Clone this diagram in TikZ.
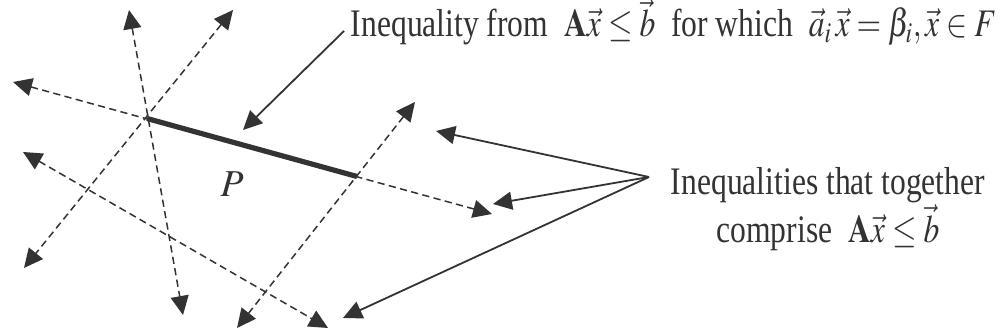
\documentclass[tikz,border=0pt]{standalone}
\usepackage{mathptmx}
\usepackage{fontspec}
\setmainfont{Liberation Serif}
\usepackage{graphicx}
\usetikzlibrary{arrows.meta}

\definecolor{ink}{RGB}{51,51,51}
\newcommand{\cond}[1]{\scalebox{0.81}[1]{#1}}

\begin{document}
\begin{tikzpicture}[x=0.5pt,y=-0.5pt,color=ink,line width=0.9pt,
  tip/.style={-{Triangle[length=9.5pt,width=9pt]}},
  bound/.style={{Triangle[length=9.5pt,width=9pt]}-{Triangle[length=9.5pt,width=9pt]},
    line width=0.75pt,dash pattern=on 3.6pt off 2.2pt},
  lbl/.style={font=\fontsize{19.5}{14.5}\selectfont,inner sep=0pt}]
\useasboundingbox (0,0) rectangle (1000,335);

% ends of the five hyperplanes
\coordinate (h1-a) at (129,10);  \coordinate (h1-b) at (183,315);
\coordinate (h2-a) at (233,10);  \coordinate (h2-b) at (24,268);
\coordinate (h3-a) at (13,82);   \coordinate (h3-b) at (492,214);
\coordinate (h4-a) at (23,152);  \coordinate (h4-b) at (328,328);
\coordinate (h5-a) at (415,102); \coordinate (h5-b) at (237,328);
\foreach \i in {1,...,5}
  \draw[bound] (h\i-a) -- (h\i-b);

% the face F
\coordinate (v1) at (147,118.5);
\coordinate (v2) at (357,176.5);
\draw[line width=2.6pt] (v1) -- (v2);
\node[font=\fontsize{19}{22}\selectfont] (poly) at (232,184) {$P$};

\node[lbl,anchor=base west] (face) at (350,37)
  {\cond{Inequality from \ $\mathbf{A}\vec{x}\le\vec{b}$ \ for which \ $\vec{a}_i\,\vec{x}=\beta_i,\vec{x}\in F$}};
\coordinate (facept) at (243,130);
\draw[tip] ([shift={(-6,-6)}]face.base west) -- (facept);

\node[lbl,align=center] (ineq) at (828,209)
  {\cond{Inequalities that together}\\ \cond{comprise \ $\mathbf{A}\vec{x}\le\vec{b}$}};
\coordinate (apex) at (649,177);
\coordinate (t1) at (436,131);
\coordinate (t2) at (493,204);
\coordinate (t3) at (343,318);
\foreach \t in {t1,t2,t3}
  \draw[tip] (apex) -- (\t);
\end{tikzpicture}
\end{document}
